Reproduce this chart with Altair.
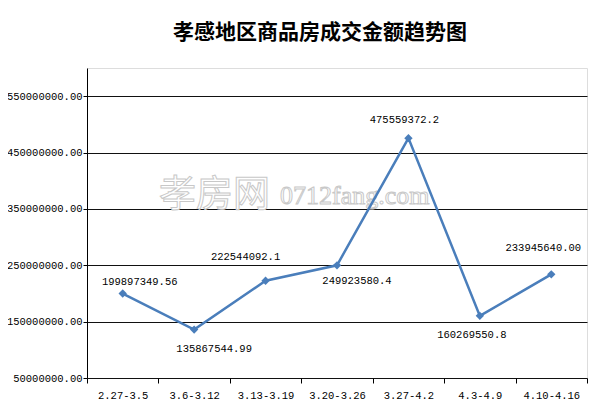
import altair as alt
import pandas as pd

categories = ["2.27-3.5", "3.6-3.12", "3.13-3.19", "3.20-3.26", "3.27-4.2", "4.3-4.9", "4.10-4.16"]
values = [199897349.56, 135867544.99, 222544092.1, 249923580.4, 475559372.2, 160269550.8, 233945640.00]
labels = ["199897349.56", "135867544.99", "222544092.1", "249923580.4", "475559372.2", "160269550.8", "233945640.00"]
y_ticks = [50000000, 150000000, 250000000, 350000000, 450000000, 550000000]

# label placement (style only): dx, dy per point
label_dx = [17, 20, -20, 20, -4, -8, -8]
label_dy = [-12, 19, -24, 16, -18, 19, -26]

df = pd.DataFrame({"cat": categories, "value": values, "label": labels, "idx": list(range(len(categories)))})

FONT = "Liberation Mono"
BLUE = "#4a7ebb"

x_enc = alt.X("cat:N", sort=categories, title=None,
              scale=alt.Scale(domain=categories, paddingInner=0, paddingOuter=0),
              axis=alt.Axis(tickBand="extent", labelAngle=0, labelFont=FONT, labelFontSize=10.5,
                            labelColor="#000", domainColor="#000", tickColor="#000",
                            tickSize=5, labelPadding=7, grid=False, domain=False))
y_enc = alt.Y("value:Q", title=None,
              scale=alt.Scale(domain=[50000000, 600000000], nice=False, zero=False),
              axis=alt.Axis(values=y_ticks, labelExpr="format(datum.value, '.2f')",
                            labelFont=FONT, labelFontSize=10.5, labelColor="#000",
                            domainColor="#000", tickColor="#000", tickSize=4,
                            grid=True, gridColor="#111", gridWidth=1, labelPadding=1))

base = alt.Chart(df)

line = base.mark_line(color=BLUE, strokeWidth=2.5).encode(x=x_enc, y=y_enc)
points = base.mark_point(shape="diamond", filled=True, color=BLUE, size=70, opacity=1).encode(x=x_enc, y=y_enc)

texts = []
for i in range(len(categories)):
    texts.append(
        base.transform_filter(alt.datum.idx == i)
        .mark_text(font=FONT, fontSize=10.5, color="#000", dx=label_dx[i], dy=label_dy[i])
        .encode(x=x_enc, y=y_enc, text="label:N")
    )

wm_df = pd.DataFrame({"t1": ["孝房网"], "t2": ["0712fang.com"]})
wm1 = alt.Chart(wm_df).mark_text(font="Noto Sans CJK SC", fontSize=37, fill="white", stroke="#c8c8c8",
                                 strokeWidth=1, align="left", baseline="middle").encode(
    x=alt.value(72), y=alt.value(128), text="t1:N")
wm2 = alt.Chart(wm_df).mark_text(font="Liberation Serif", fontSize=26, fill="white", stroke="#c8c8c8",
                                 strokeWidth=1, align="left", baseline="middle").encode(
    x=alt.value(193), y=alt.value(128), text="t2:N")

chart = alt.layer(wm1, wm2, line, points, *texts).properties(
    width=500, height=310,
    padding={"left": 79, "top": 60, "right": 5, "bottom": 30},
    autosize=alt.AutoSizeParams(type="none"),
    title=alt.TitleParams("孝感地区商品房成交金额趋势图", font="Noto Sans CJK SC", fontSize=21,
                          fontWeight="bold", color="#000", anchor="middle", dx=-17, offset=25)
).configure_view(stroke=None).configure(background="white")

chart.save("out.html", embed_options={"renderer": "svg", "actions": False})
